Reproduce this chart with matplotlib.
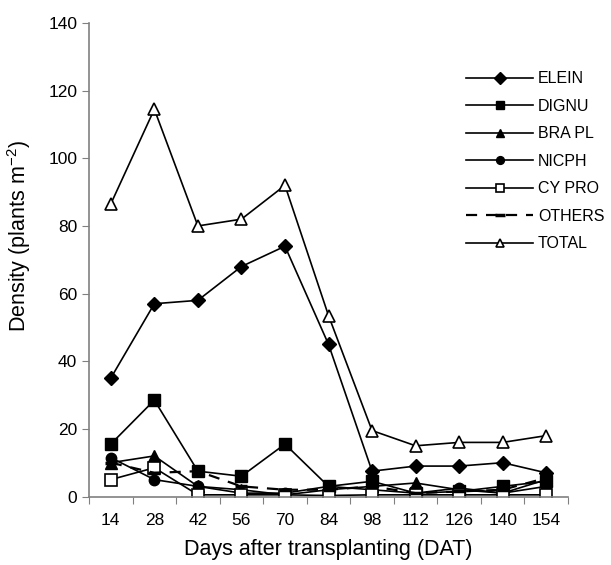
import numpy as np
import matplotlib.pyplot as plt

plt.rcParams['font.family'] = ['Liberation Sans', 'DejaVu Sans']

# days after transplanting
dat = [14, 28, 42, 56, 70, 84, 98, 112, 126, 140, 154]

elein = [35, 57, 58, 68, 74, 45, 7.5, 9, 9, 10, 7]
dignu = [15.5, 28.5, 7.5, 6, 15.5, 3, 4.5, 1, 1.5, 3, 4.5]
brapl = [10, 12, 3, 2, 0.5, 2, 3, 4, 2, 1, 5]
nicph = [11.5, 5, 3, 1, 1, 3, 2, 1, 2.5, 1, 3]
cypro = [5, 8.5, 0.5, 0.5, 0.5, 0.3, 0.5, 0.5, 0.5, 0.5, 0.5]
others = [10, 7, 7.5, 3, 2, 2, 3, 1, 1.5, 2, 5.5]
total = [86.5, 114.5, 80, 82, 92, 53.5, 19.5, 15, 16, 16, 18]

x = np.arange(len(dat))

fig = plt.figure(figsize=(6.11, 5.65), dpi=100)
ax = fig.add_axes([0.1457, 0.1212, 0.7839, 0.8381])

lw = 1.2
ax.plot(x, elein, color='black', lw=lw, marker='D', ms=7.5, label='ELEIN')
ax.plot(x, dignu, color='black', lw=lw, marker='s', ms=8.5, label='DIGNU')
ax.plot(x, brapl, color='black', lw=lw, marker='^', ms=8.5, label='BRA PL')
ax.plot(x, nicph, color='black', lw=lw, marker='o', ms=7.5, label='NICPH')
ax.plot(x, cypro, color='black', lw=lw, marker='s', ms=8.5, mfc='white', mec='black', mew=1.2, label='CY PRO')
ax.plot(x, others, color='black', lw=1.6, ls=(0, (5, 4)), marker='_', ms=9, mew=2.5, label='OTHERS')
ax.plot(x, total, color='black', lw=lw, marker='^', ms=8.5, mfc='white', mec='black', mew=1.2, label='TOTAL')

ax.set_xlim(-0.5, len(dat) - 0.5)
ax.set_ylim(0, 140)
ax.set_yticks(np.arange(0, 141, 20))
ax.set_xticks(np.arange(-0.5, len(dat), 1.0))
ax.set_xticklabels([])
ax.set_xticks(x, minor=True)
ax.set_xticklabels([str(d) for d in dat], minor=True)
ax.tick_params(axis='x', which='minor', length=0, pad=12, labelsize=12.5)
ax.tick_params(axis='x', which='major', length=5, color='#808080', direction='out')
ax.tick_params(axis='y', length=5, color='#808080', direction='out', labelsize=12.5)

for s in ['top', 'right']:
    ax.spines[s].set_visible(False)
for s in ['left', 'bottom']:
    ax.spines[s].set_color('#808080')
    ax.spines[s].set_linewidth(1.2)

ax.set_xlabel('Days after transplanting (DAT)', fontsize=15.5, labelpad=8)
ax.set_ylabel('Density (plants m$^{\\mathregular{-2}}$)', fontsize=15.5)
ax.yaxis.set_label_coords(-0.117, 0.55)

leg = ax.legend(loc='upper left', bbox_to_anchor=(0.7575, 0.928), frameon=False,
                fontsize=11.5, handlelength=4.2, handletextpad=0.3,
                labelspacing=0.78, markerscale=0.75)

plt.savefig('out.png', dpi=100)
